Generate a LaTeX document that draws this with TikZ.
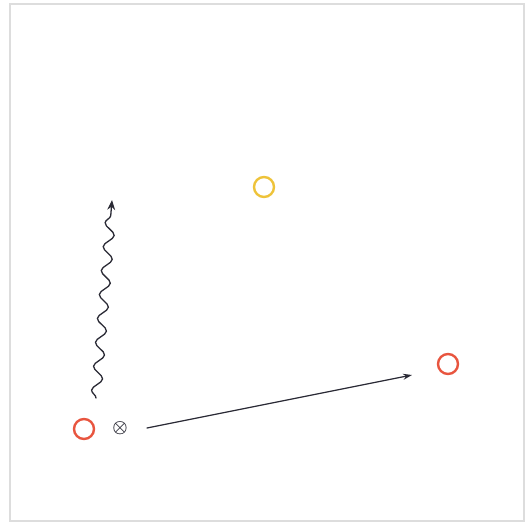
\documentclass[tikz,border=0pt]{standalone}
\usepackage{amsmath}
\usepackage{amssymb}
\usepackage{bm}
\usetikzlibrary{decorations.pathmorphing}
\usetikzlibrary{arrows.meta}
\usetikzlibrary{positioning}
\usetikzlibrary{calc}

\definecolor{ringred}{HTML}{E8553F}
\definecolor{ringyellow}{HTML}{EEC33A}
\definecolor{framegray}{HTML}{DDDDDD}
\definecolor{inkgray}{HTML}{2A2A35}

\begin{document}
\begin{tikzpicture}[x=1bp, y=-1bp,
    ring/.style={circle, draw, line width=2.4bp, minimum size=20bp, inner sep=0pt},
    every path/.style={line cap=round}]

      \useasboundingbox (0,0) rectangle (527,525);
      \draw[framegray, line width=2bp] (10,4) rectangle (524,521);

      \node[ring, draw=ringred] (source) at (84, 429) {};
      \node[ring, draw=ringyellow] (upper) at (264, 187) {};
      \node[ring, draw=ringred] (target) at (448, 364) {};

      \node[inner sep=0pt, text=inkgray, font=\LARGE] (cross) at (120, 428) {$\bm{\otimes}$};

      \coordinate (wavestart) at (96, 398);
      \coordinate (waveend) at (112, 200);
      \coordinate (beamstart) at (147, 428);
      \coordinate (beamend) at (412, 375);

      % wavy arrow going up
      \draw[inkgray, line width=1.3bp, -{Stealth[length=10bp, width=8bp]},
            decorate, decoration={snake, amplitude=5bp, segment length=24bp, post length=7bp}]
            (wavestart) -- (waveend);

      % straight arrow to the right
      \draw[inkgray, line width=1.2bp, -{Stealth[length=9bp, width=6bp]}] (beamstart) -- (beamend);

\end{tikzpicture}
\end{document}
